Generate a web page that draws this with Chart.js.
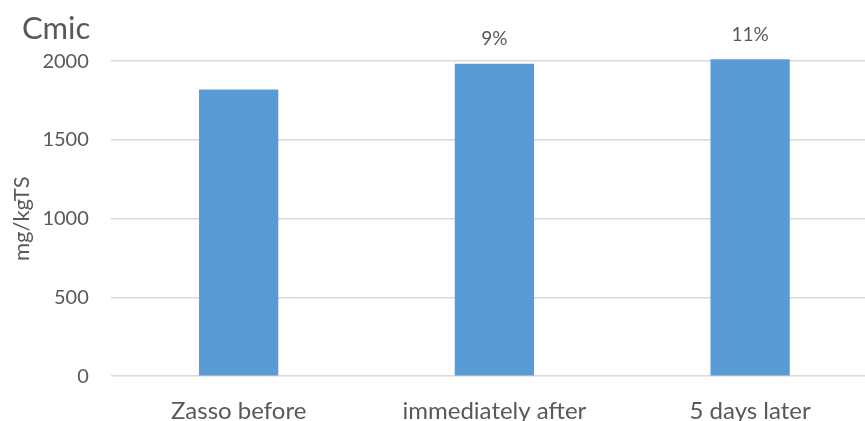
<!DOCTYPE html>
<html>
<head>
<meta charset="utf-8">
<script src="https://cdn.jsdelivr.net/npm/chart.js@4"></script>
<style>
  html, body { margin: 0; padding: 0; background: #fff; overflow: hidden; }
  #wrap { width: 878px; height: 439px; }
</style>
</head>
<body>
<div id="wrap"><canvas id="chart"></canvas></div>
<script>
const categories = ['Zasso before', 'immediately after', '5 days later'];
const cmicValues = [1820, 1984, 2012];
const changeLabels = ['', '9%', '11%'];
const yTicks = [0, 500, 1000, 1500, 2000];

const textColor = '#595959';
const fontFamily = 'Lato, "Open Sans", sans-serif';

// draws the % change above each bar
const barLabels = {
  id: 'barLabels',
  afterDatasetsDraw(chart) {
    const ctx = chart.ctx;
    const meta = chart.getDatasetMeta(0);
    ctx.save();
    ctx.fillStyle = textColor;
    ctx.font = '19px ' + fontFamily;
    ctx.textAlign = 'center';
    ctx.textBaseline = 'bottom';
    meta.data.forEach((bar, i) => {
      if (changeLabels[i]) ctx.fillText(changeLabels[i], bar.x, bar.y - 15);
    });
    ctx.restore();
  }
};

new Chart(document.getElementById('chart').getContext('2d'), {
  type: 'bar',
  data: {
    labels: categories,
    datasets: [{
      data: cmicValues,
      backgroundColor: '#5B9BD5',
      barPercentage: 0.31,
      categoryPercentage: 1,
      clip: false
    }]
  },
  options: {
    responsive: true,
    maintainAspectRatio: false,
    animation: false,
    layout: { padding: { left: 22, top: 10, right: 0, bottom: 0 } },
    plugins: {
      legend: { display: false },
      tooltip: { enabled: false },
      title: {
        display: true,
        text: 'Cmic',
        align: 'start',
        color: textColor,
        font: { family: fontFamily, size: 31, weight: 'normal' },
        padding: { top: 0, bottom: 14 }
      }
    },
    scales: {
      x: {
        grid: { display: false },
        border: { display: false },
        ticks: { color: textColor, font: { family: fontFamily, size: 24 }, padding: 13 }
      },
      y: {
        min: 0,
        max: 2000,
        afterBuildTicks(axis) { axis.ticks = yTicks.map(v => ({ value: v })); },
        grid: { color: '#d9d9d9', lineWidth: 1.5, drawTicks: false },
        border: { display: false },
        ticks: {
          color: textColor,
          font: { family: fontFamily, size: 20 },
          padding: 22,
          callback: (v) => String(v)
        },
        title: {
          display: true,
          text: 'mg/kgTS',
          color: textColor,
          font: { family: fontFamily, size: 22 },
          padding: { top: -13, bottom: -15 }
        }
      }
    }
  },
  plugins: [barLabels]
});
</script>
</body>
</html>
